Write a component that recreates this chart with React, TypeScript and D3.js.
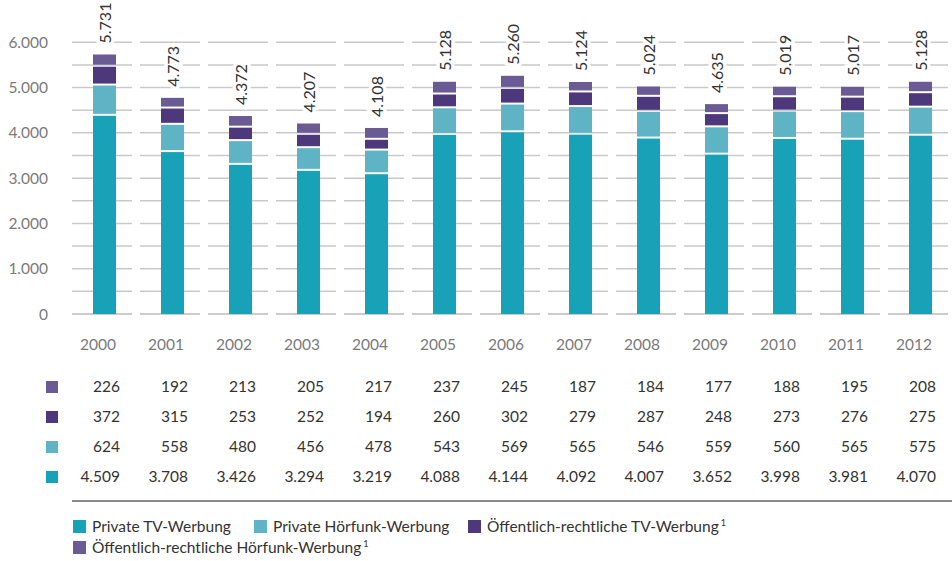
import React, { useRef, useEffect } from 'react';
import * as d3 from 'd3';

const years = ['2000', '2001', '2002', '2003', '2004', '2005', '2006', '2007', '2008', '2009', '2010', '2011', '2012'];
const privatTv = [4509, 3708, 3426, 3294, 3219, 4088, 4144, 4092, 4007, 3652, 3998, 3981, 4070];
const privatHf = [624, 558, 480, 456, 478, 543, 569, 565, 546, 559, 560, 565, 575];
const oerTv = [372, 315, 253, 252, 194, 260, 302, 279, 287, 248, 273, 276, 275];
const oerHf = [226, 192, 213, 205, 217, 237, 245, 187, 184, 177, 188, 195, 208];
const totals = [5731, 4773, 4372, 4207, 4108, 5128, 5260, 5124, 5024, 4635, 5019, 5017, 5128];
const yTicks = [0, 1000, 2000, 3000, 4000, 5000, 6000];

const seriesNames = ['Private TV-Werbung', 'Private Hörfunk-Werbung', 'Öffentlich-rechtliche TV-Werbung', 'Öffentlich-rechtliche Hörfunk-Werbung'];
const colors = ['#18a2b8', '#5eb4c5', '#4c387a', '#6b5b95'];

const FONT = 'Lato, sans-serif';
const GAP = 2;
const fmt = (v: number) => d3.format(',')(v).replace(/,/g, '.');

const App = () => {
    const svgRef = useRef<SVGSVGElement>(null);
    useEffect(() => {
        const svg = d3.select(svgRef.current);
        svg.selectAll('*').remove();

        const x = d3.scaleBand().domain(years).range([72, 72 + 13 * 68]).padding(0);
        const y = d3.scaleLinear().domain([0, 6000]).range([314, 42.3]);

        // Segmente von oben nach unten stapeln, mit weißen Fugen
        const segs: { year: string; y0: number; y1: number; color: string }[] = [];
        years.forEach((yr, i) => {
            const fromTop = [oerHf[i], oerTv[i], privatHf[i]];
            const segColors = [colors[3], colors[2], colors[1]];
            let top = y(totals[i]);
            fromTop.forEach((v, k) => {
                const h = y(0) - y(v);
                segs.push({ year: yr, y0: top, y1: top + h, color: segColors[k] });
                top += h + GAP;
            });
            segs.push({ year: yr, y0: top, y1: y(0), color: colors[0] });
        });

        // Gitterlinien, pro Kategorie unterbrochen
        const grid = svg.append('g');
        d3.range(0, 6001, 500).forEach(v => {
            years.forEach(yr => {
                grid.append('line')
                    .attr('x1', x(yr)!).attr('x2', x(yr)! + 60)
                    .attr('y1', y(v)).attr('y2', y(v))
                    .attr('stroke', v === 0 ? '#bbbbbb' : '#c9c9c9').attr('stroke-width', 1.5);
            });
        });

        // y-Achse Beschriftung
        svg.append('g').selectAll('text').data(yTicks).join('text')
            .attr('x', 48).attr('y', d => y(d) + 5.5)
            .attr('text-anchor', 'end').attr('font-family', FONT).attr('font-size', 15.5).attr('fill', '#7a7a7a')
            .text(d => fmt(d));

        svg.append('g').selectAll('rect').data(segs).join('rect')
            .attr('x', d => x(d.year)! + 21)
            .attr('width', 23)
            .attr('y', d => d.y0)
            .attr('height', d => d.y1 - d.y0)
            .attr('fill', d => d.color);

        // Summen, gedreht
        svg.append('g').selectAll('text').data(totals).join('text')
            .attr('transform', (d, i) => `translate(${x(years[i])! + 38.5},${y(d) - 11}) rotate(-90)`)
            .attr('font-family', FONT).attr('font-size', 16).attr('fill', '#333')
            .attr('stroke', '#fff').attr('stroke-width', 7).attr('paint-order', 'stroke')
            .text(d => fmt(d));

        // Jahreszahlen
        svg.append('g').selectAll('text').data(years).join('text')
            .attr('x', d => x(d)! + 44).attr('y', 350)
            .attr('text-anchor', 'end').attr('font-family', FONT).attr('font-size', 15.5).attr('fill', '#7a7a7a')
            .text(d => d);

        // Datentabelle
        const tableSeries = [oerHf, oerTv, privatHf, privatTv];
        const tableColors = [colors[3], colors[2], colors[1], colors[0]];
        tableSeries.forEach((vals, r) => {
            const base = 392 + r * 30;
            svg.append('rect').attr('x', 46).attr('y', base - 11).attr('width', 12).attr('height', 12).attr('fill', tableColors[r]);
            svg.append('g').selectAll('text').data(vals).join('text')
                .attr('x', (_, i) => x(years[i])! + 48).attr('y', base)
                .attr('text-anchor', 'end').attr('font-family', FONT).attr('font-size', 15.5).attr('fill', '#333')
                .text(d => fmt(d));
        });

        svg.append('line').attr('x1', 72).attr('x2', 952).attr('y1', 501).attr('y2', 501)
            .attr('stroke', '#8a8a8a').attr('stroke-width', 2);

        // Legende
        const legendPos = [[73, 532], [254, 532], [468, 532], [73, 553]];
        legendPos.forEach(([lx, ly], i) => {
            svg.append('rect').attr('x', lx).attr('y', ly - 12).attr('width', 13).attr('height', 13).attr('fill', colors[i]);
            const t = svg.append('text').attr('x', lx + 19).attr('y', ly)
                .attr('font-family', FONT).attr('font-size', 15.5).attr('fill', '#333')
                .text(seriesNames[i]);
            if (i >= 2) {
                t.append('tspan').attr('dx', 2).attr('dy', -6).attr('font-size', 9).text('1');
            }
        });
    }, []);

    return <svg ref={svgRef} width={952} height={561} style={{ position: 'absolute', left: 0, top: 0 }} />;
};

export default App;
